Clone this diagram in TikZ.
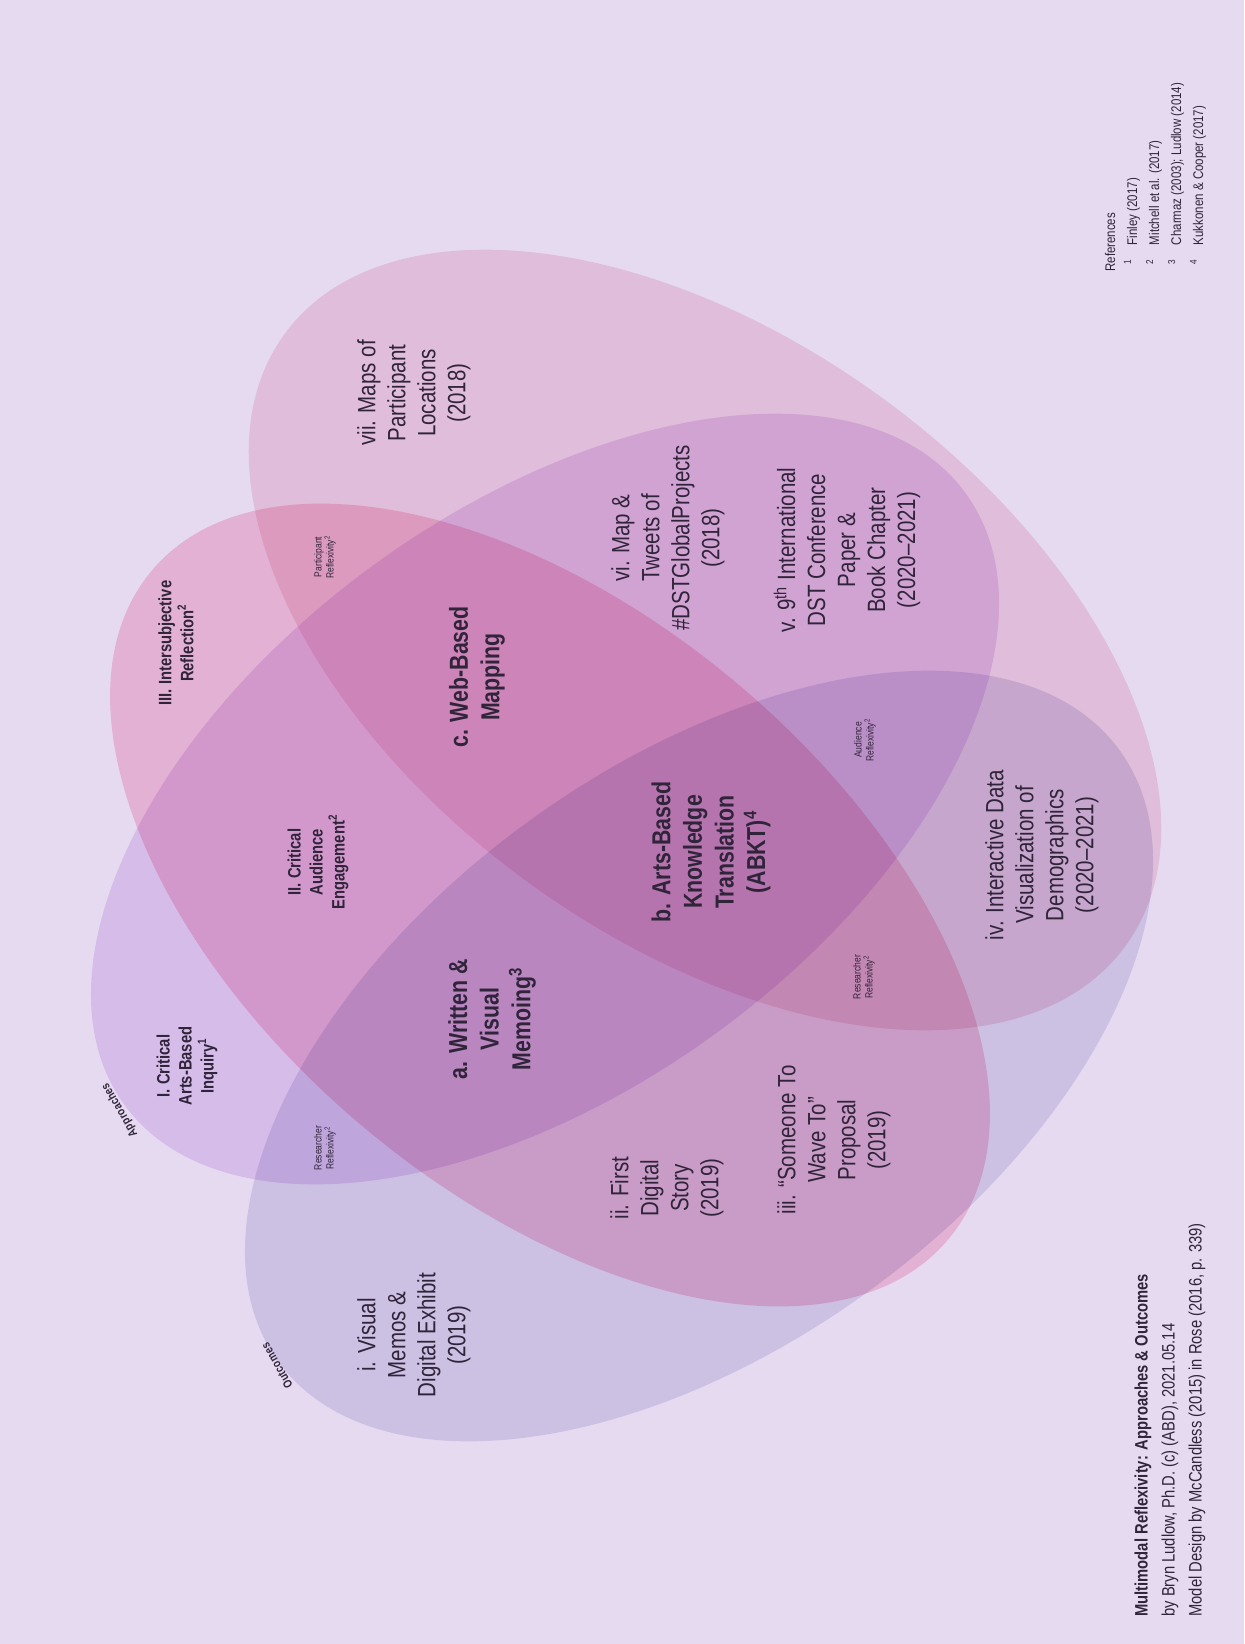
\documentclass[tikz,border=0pt]{standalone}
\usepackage{fontspec}
\setmainfont{Liberation Sans}[FakeStretch=0.82]

% page and ink colours
\definecolor{bgc}{RGB}{230,218,241}
\definecolor{txt}{RGB}{48,36,58}
% each ellipse: light core, deeper rim (multiplied onto the page)
\definecolor{rosC}{RGB}{249,222,231}
\definecolor{rosE}{RGB}{237,187,203}
\definecolor{pnkC}{RGB}{251,208,224}
\definecolor{pnkE}{RGB}{242,175,206}
\definecolor{lilC}{RGB}{238,220,247}
\definecolor{lilE}{RGB}{222,181,241}
\definecolor{lavC}{RGB}{227,225,241}
\definecolor{lavE}{RGB}{189,172,219}

\pgfdeclareradialshading{rimRose}{\pgfpointorigin}{color(0bp)=(rosC); color(34bp)=(rosC); color(50bp)=(rosE)}
\pgfdeclareradialshading{rimPink}{\pgfpointorigin}{color(0bp)=(pnkC); color(34bp)=(pnkC); color(50bp)=(pnkE)}
\pgfdeclareradialshading{rimLilac}{\pgfpointorigin}{color(0bp)=(lilC); color(34bp)=(lilC); color(50bp)=(lilE)}
\pgfdeclareradialshading{rimLav}{\pgfpointorigin}{color(0bp)=(lavC); color(34bp)=(lavC); color(50bp)=(lavE)}

% one set ellipse: centre x, centre y, tilt, minor radius, shading
\newcommand\vennset[5]{%
  \begin{scope}[transform canvas={shift={(#1,#2)}, rotate=#3}]
    \shade[shading=#5, blend mode=multiply] (0,0) ellipse[x radius=520, y radius=#4];
  \end{scope}}

\tikzset{
  lbl/.style={rotate=90, align=center, text=txt, inner sep=0pt},
  outlbl/.style={lbl, font=\fontsize{12.5}{15}\selectfont},
  keylbl/.style={lbl, font=\fontsize{13}{15.8}\selectfont\bfseries},
  apprlbl/.style={lbl, font=\fontsize{9}{11}\selectfont\bfseries},
  tinylbl/.style={lbl, font=\fontsize{5.2}{6}\selectfont},
  edgelbl/.style={align=center, text=txt, inner sep=0pt, font=\fontsize{6}{7}\selectfont\bfseries\addfontfeature{LetterSpace=3}},
  footlbl/.style={rotate=90, anchor=west, text=txt, inner sep=0pt, font=\fontsize{9}{10}\selectfont},
  reflbl/.style={rotate=90, anchor=west, text=txt, inner sep=0pt, font=\fontsize{7}{8}\selectfont},
}

\begin{document}
\begin{tikzpicture}[x=0.5pt, y=-0.5pt]
\fill[bgc] (0,0) rectangle (1244,1644);
\useasboundingbox (0,0) rectangle (1244,1644);

% four-set Venn: two falling, two rising ellipses
\vennset{705}{640}{-36}{300}{rimRose}   % vii ... Participant locations
\vennset{550}{905}{-40}{290}{rimPink}   % III. Intersubjective Reflection
\vennset{545}{799}{36}{290}{rimLilac}   % I. Critical Arts-Based Inquiry
\vennset{699}{1056}{36}{290}{rimLav}    % i. Visual Memos (outcomes)

% outcomes
\node[outlbl] (vii) at (414,393) {vii. Maps of\\Participant\\Locations\\(2018)};
\node[outlbl] (vi) at (668,538) {vi. Map \&\\Tweets of\\\#DSTGlobalProjects\\(2018)};
\node[outlbl] (v) at (847,550) {v. 9\textsuperscript{th} International\\DST Conference\\Paper \&\\Book Chapter\\(2020–2021)};
\node[outlbl] (iv) at (1042,855) {iv. Interactive Data\\Visualization of\\Demographics\\(2020–2021)};
\node[outlbl] (iii) at (834,1140) {iii. “Someone To\\Wave To”\\Proposal\\(2019)};
\node[outlbl] (ii) at (667,1188) {ii. First\\Digital\\Story\\(2019)};
\node[outlbl] (i) at (414,1335) {i. Visual\\Memos \&\\Digital Exhibit\\(2019)};

% methods
\node[keylbl] (c) at (477,677) {c. Web-Based\\Mapping};
\node[keylbl] (b) at (711,852) {b. Arts-Based\\Knowledge\\Translation\\(ABKT)\textsuperscript{4}};
\node[keylbl] (a) at (492,1019) {a. Written \&\\Visual\\Memoing\textsuperscript{3}};

% approaches
\node[apprlbl] (apI) at (187,1066) {I. Critical\\Arts-Based\\Inquiry\textsuperscript{1}};
\node[apprlbl] (apII) at (318,862) {II. Critical\\Audience\\Engagement\textsuperscript{2}};
\node[apprlbl] (apIII) at (176,643) {III. Intersubjective\\Reflection\textsuperscript{2}};

% reflexivity zones
\node[tinylbl] (partR) at (325,557) {Participant\\Reflexivity\textsuperscript{2}};
\node[tinylbl] (audR) at (865,740) {Audience\\Reflexivity\textsuperscript{2}};
\node[tinylbl] (resR) at (864,977) {Researcher\\Reflexivity\textsuperscript{2}};
\node[tinylbl] (resL) at (325,1148) {Researcher\\Reflexivity\textsuperscript{2}};

% set captions along the ellipse rims
\node[edgelbl, rotate=120] (appr) at (120,1110) {Approaches};
\node[edgelbl, rotate=120] (outc) at (277,1366) {Outcomes};

% credits
\node[footlbl] (title) at (1143,1617) {\bfseries Multimodal Reflexivity: Approaches \& Outcomes};
\node[footlbl] (byline) at (1170,1617) {by Bryn Ludlow, Ph.D. (c) (ABD), 2021.05.14};
\node[footlbl] (model) at (1197,1617) {Model Design by McCandless (2015) in Rose (2016, p. 339)};

% references
\node[reflbl] (refs) at (1110,272) {References};
\node[reflbl] (ref1) at (1132,265) {\textsuperscript{1}\quad Finley (2017)};
\node[reflbl] (ref2) at (1154,265) {\textsuperscript{2}\quad Mitchell et al. (2017)};
\node[reflbl] (ref3) at (1176,265) {\textsuperscript{3}\quad Charmaz (2003); Ludlow (2014)};
\node[reflbl] (ref4) at (1198,265) {\textsuperscript{4}\quad Kukkonen \& Cooper (2017)};
\end{tikzpicture}
\end{document}
